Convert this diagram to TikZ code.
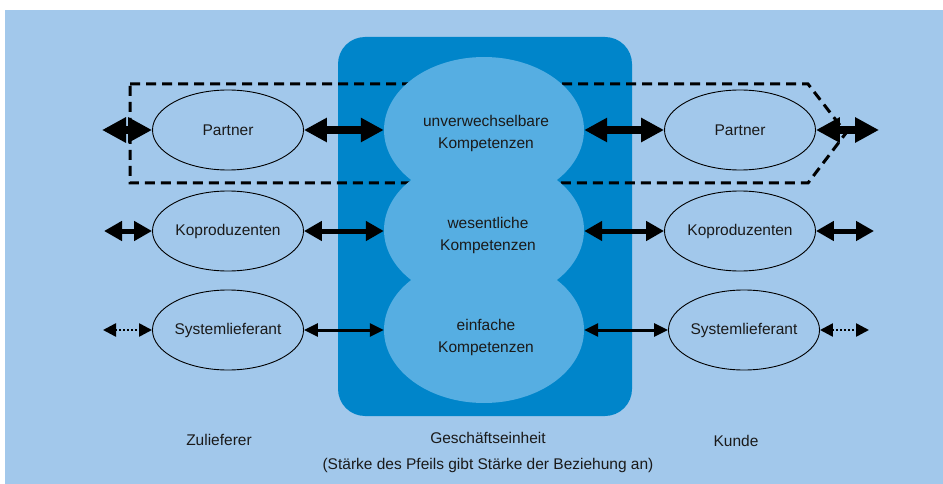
\documentclass[tikz,border=0pt]{standalone}
\usepackage{fontspec}
\setmainfont{Liberation Sans}
\usetikzlibrary{arrows.meta,shapes.geometric}
\definecolor{bgblue}{HTML}{A2C8EB}
\definecolor{darkblue}{HTML}{0085CA}
\definecolor{lobeblue}{HTML}{56AEE2}
\definecolor{txt}{HTML}{1A1A1A}
\begin{document}
\begin{tikzpicture}[x=1pt,y=-1pt,
  every node/.style={font=\fontsize{15.5}{22}\selectfont, text=txt},
  relell/.style={draw=black, line width=0.9pt, ellipse, minimum width=151pt, minimum height=80pt, inner sep=0pt},
  lobe/.style={ellipse, fill=lobeblue, minimum width=200pt, minimum height=146pt, inner sep=0pt},
  lobetext/.style={align=center, inner sep=0pt},
  relstrong/.style={line width=8pt, {Triangle[length=23pt,width=23pt]}-{Triangle[length=23pt,width=23pt]}},
  relstrongout/.style={line width=8pt, {Triangle[length=24pt,width=24pt]}-{Triangle[length=24pt,width=24pt]}},
  relmedium/.style={line width=5pt, {Triangle[length=18pt,width=19pt]}-{Triangle[length=18pt,width=19pt]}},
  relweak/.style={line width=3pt, {Triangle[length=14pt,width=13pt]}-{Triangle[length=14pt,width=13pt]}},
  reldot/.style={line width=2.5pt, dash pattern=on 2pt off 2pt, {Triangle[length=13pt,width=13pt]}-{Triangle[length=13pt,width=13pt]}},
  groupline/.style={line width=3pt, dash pattern=on 10pt off 6pt},
  caption/.style={anchor=center}
]
\useasboundingbox (0,0) rectangle (943,484);
\fill[bgblue] (5,10) rectangle (943,484);
\fill[darkblue, rounded corners=27pt] (338,37) rectangle (632,416);
\draw[groupline] (130,84) -- (808,84) -- (846,133) -- (808,183) -- (130,183) -- cycle;

\node[lobe] (e) at (484,330) {};
\node[lobe] (w) at (484,230) {};
\node[lobe] (u) at (484,130) {};
\node[lobetext] (ut) at (486,133) {unverwechselbare\\Kompetenzen};
\node[lobetext] (wt) at (488,235) {wesentliche\\Kompetenzen};
\node[lobetext] (et) at (486,337) {einfache\\Kompetenzen};

\node[relell] (pl) at (228,130) {Partner};
\node[relell] (kl) at (228,231) {Koproduzenten};
\node[relell] (sl) at (228,330) {Systemlieferant};
\node[relell] (pr) at (740,130) {Partner};
\node[relell] (kr) at (740,231) {Koproduzenten};
\node[relell] (sr) at (744,330) {Systemlieferant};

\coordinate (l1) at (102,130);
\coordinate (l2) at (104,231);
\coordinate (l3) at (103,330);
\coordinate (r1) at (879,130);
\coordinate (r2) at (874,231);
\coordinate (r3) at (869,330);

\draw[relstrongout] (l1) -- (pl.west);
\draw[relstrong] (pl.east) -- (pl.east -| u.west);
\draw[relstrong] (pr.west -| u.east) -- (pr.west);
\draw[relstrongout] (pr.east) -- (r1);

\draw[relmedium] (l2) -- (kl.west);
\draw[relmedium] (kl.east) -- (kl.east -| w.west);
\draw[relmedium] (kr.west -| w.east) -- (kr.west);
\draw[relmedium] (kr.east) -- (r2);

\draw[reldot] (l3) -- (sl.west);
\draw[relweak] (sl.east) -- (sl.east -| e.west);
\draw[relweak] (sr.west -| e.east) -- (sr.west);
\draw[reldot] (sr.east) -- (r3);

\node[caption] (zu) at (219,440) {Zulieferer};
\node[caption] (ge) at (488,438) {Geschäftseinheit};
\node[caption] (ku) at (736,441) {Kunde};
\node[caption] (st) at (488,465) {(Stärke des Pfeils gibt Stärke der Beziehung an)};
\end{tikzpicture}
\end{document}
